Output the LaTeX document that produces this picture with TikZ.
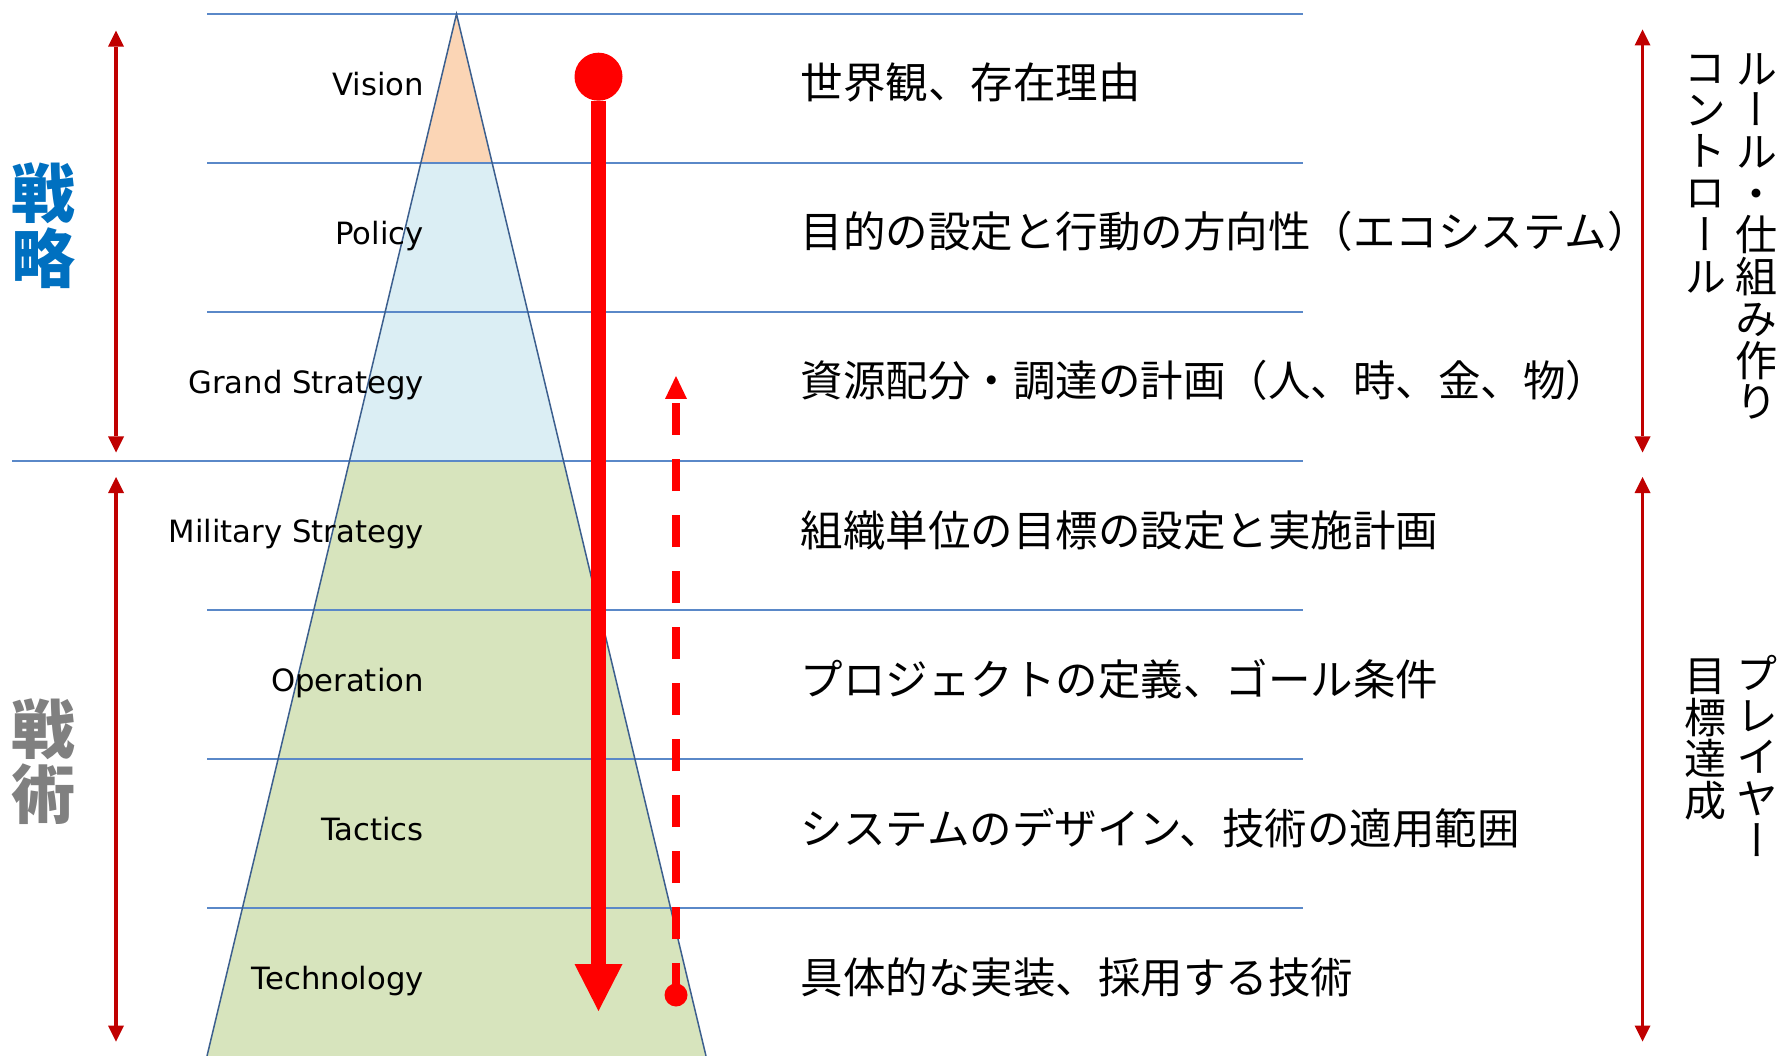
\documentclass[tikz,border=0pt]{standalone}
\usepackage{fontspec}
\setmainfont{DejaVu Sans}
\newfontfamily\jp{Noto Sans CJK JP}
\newfontfamily\jpv[RawFeature=+vert]{Noto Sans CJK JP}
\usetikzlibrary{arrows.meta}
\definecolor{peach}{HTML}{FBD5B5}
\definecolor{paleblue}{HTML}{DBEEF4}
\definecolor{palegreen}{HTML}{D7E4BD}
\definecolor{rulecol}{HTML}{5A88C8}
\definecolor{edgecol}{HTML}{3C5F8E}
\definecolor{darkred}{HTML}{C00000}
\definecolor{brightred}{HTML}{FF0000}
\definecolor{stratblue}{HTML}{0070C0}
\definecolor{tacgray}{HTML}{808080}
\begin{document}
\begin{tikzpicture}[x=1pt,y=-1pt,
  rowline/.style={draw=rulecol, line width=2pt},
  layerlbl/.style={anchor=base east, inner sep=0pt, font=\fontsize{30.7}{36}\selectfont},
  desc/.style={anchor=base west, inner sep=0pt, font=\jp\fontsize{42.5}{48}\selectfont},
  biglbl/.style={anchor=north, inner sep=0pt, align=center, font=\jp\bfseries\fontsize{64}{65}\selectfont},
  vtext/.style={anchor=north, inner sep=0pt, align=center, font=\jpv\fontsize{42}{41.7}\selectfont},
  spanarrow/.style={draw=darkred, line width=3.5pt, {Triangle[length=16pt,width=16pt,line width=0pt]}-{Triangle[length=16pt,width=16pt,line width=0pt]}},
  dotnode/.style={circle, fill=brightred, inner sep=0pt, minimum size=#1},
]
\useasboundingbox (0,0) rectangle (1781,1056);
\fill[white] (0,0) rectangle (1781,1056);

% pyramid
\coordinate (apex) at (456.5,14);
\coordinate (bl) at (207,1056);
\coordinate (br) at (706,1056);
\begin{scope}
  \clip (apex) -- (bl) -- (br) -- cycle;
  \fill[peach] (0,14) rectangle (1781,163);
  \fill[paleblue] (0,163) rectangle (1781,461);
  \fill[palegreen] (0,461) rectangle (1781,1056);
\end{scope}

% row lines
\foreach \yy in {14,163,312,610,759,908} {
  \draw[rowline] (207,\yy) -- (1303,\yy);
}
\draw[rowline] (12,461) -- (1303,461);

\draw[edgecol, line width=1.5pt] (bl) -- (apex) -- (br);

% layer labels
\node[layerlbl] (l1) at (424,95.5) {Vision};
\node[layerlbl] (l2) at (424,244.5) {Policy};
\node[layerlbl] (l3) at (424,393.5) {Grand Strategy};
\node[layerlbl] (l4) at (424,542.5) {Military Strategy};
\node[layerlbl] (l5) at (424,691.5) {Operation};
\node[layerlbl] (l6) at (424,840.5) {Tactics};
\node[layerlbl] (l7) at (424,989.5) {Technology};

% descriptions
\node[desc] (d1) at (800.7,99) {世界観、存在理由};
\node[desc] (d2) at (800.7,248) {目的の設定と行動の方向性（エコシステム）};
\node[desc] (d3) at (800.7,397) {資源配分・調達の計画（人、時、金、物）};
\node[desc] (d4) at (800.7,546) {組織単位の目標の設定と実施計画};
\node[desc] (d5) at (800.7,695) {プロジェクトの定義、ゴール条件};
\node[desc] (d6) at (800.7,844) {システムのデザイン、技術の適用範囲};
\node[desc] (d7) at (800.7,993) {具体的な実装、採用する技術};

% big labels
\node[biglbl, text=stratblue] (senryaku) at (43,163) {戦\\略};
\node[biglbl, text=tacgray] (senjutsu) at (43,699) {戦\\術};

% span arrows
\coordinate (lu1) at (116,30.7);
\coordinate (lu2) at (116,452.5);
\coordinate (ll1) at (116,477);
\coordinate (ll2) at (116,1041.5);
\coordinate (ru1) at (1642.5,29.5);
\coordinate (ru2) at (1642.5,452.5);
\coordinate (rl1) at (1642.5,477);
\coordinate (rl2) at (1642.5,1041.5);
\draw[spanarrow] (lu1) -- (lu2);
\draw[spanarrow] (ll1) -- (ll2);
\draw[spanarrow] (ru1) -- (ru2);
\draw[spanarrow] (rl1) -- (rl2);

% vertical texts
\node[vtext] (v1) at (1756,53) {ル\\ー\\ル\\・\\仕\\組\\み\\作\\り};
\node[vtext] (v2) at (1705,55) {コ\\ン\\ト\\ロ\\ー\\ル};
\node[vtext] (v3) at (1757,655) {プ\\レ\\イ\\ヤ\\ー};
\node[vtext] (v4) at (1705,658.5) {目\\標\\達\\成};

% thick red top-down arrow
\coordinate (ts) at (598.5,52.7);
\coordinate (te) at (598.5,1011);
\draw[brightred, line width=15.6pt, {Circle[length=48pt,line width=0pt]}-{Triangle[length=47pt,width=48pt,line width=0pt]}] (ts) -- (te);

% dashed bottom-up arrow
\coordinate (de) at (676,376);
\draw[brightred, line width=8pt, dash pattern=on 32pt off 24pt, -{Triangle[length=23pt,width=22pt,line width=0pt]}] (676,995) coordinate (dsc) -- (de);
\node[dotnode=23pt] (dot) at (dsc) {};
\end{tikzpicture}
\end{document}
